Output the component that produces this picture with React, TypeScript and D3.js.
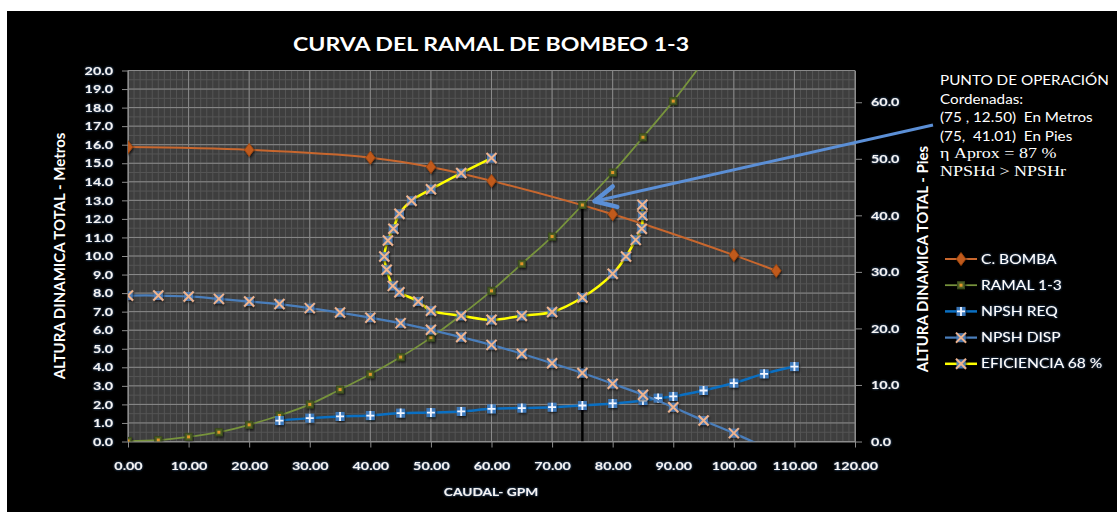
import * as d3 from 'd3';
import React, { useEffect, useRef } from 'react';

// C. BOMBA (pump curve)
const bombaQ = [0, 20, 40, 50, 60, 80, 100, 107];
const bombaH = [15.87, 15.72, 15.3, 14.8, 14.05, 12.25, 10.05, 9.2];

// RAMAL 1-3 (system curve)
const ramalQ = [0, 5, 10, 15, 20, 25, 30, 35, 40, 45, 50, 55, 60, 65, 70, 75, 80, 85, 90, 95];
const ramalH = [0.03, 0.08, 0.25, 0.5, 0.9, 1.4, 2.0, 2.8, 3.62, 4.55, 5.6, 6.82, 8.12, 9.58, 11.05, 12.75, 14.5, 16.4, 18.35, 20.5];

// NPSH REQ
const reqQ = [25, 30, 35, 40, 45, 50, 55, 60, 65, 70, 75, 80, 85, 87.5, 90, 95, 100, 105, 110];
const reqH = [1.13, 1.26, 1.35, 1.4, 1.53, 1.56, 1.62, 1.76, 1.8, 1.85, 1.94, 2.05, 2.21, 2.34, 2.43, 2.75, 3.15, 3.65, 4.04];

// NPSH DISP
const dispQ = [0, 5, 10, 15, 20, 25, 30, 35, 40, 45, 50, 55, 60, 65, 70, 75, 80, 85, 90, 95, 100, 105];
const dispH = [7.87, 7.87, 7.82, 7.69, 7.55, 7.41, 7.19, 6.95, 6.68, 6.38, 6.02, 5.63, 5.21, 4.73, 4.22, 3.69, 3.11, 2.52, 1.85, 1.13, 0.45, -0.3];

// EFICIENCIA 68 % (iso-efficiency loop)
const efQ = [60, 55, 50, 46.8, 44.8, 43.8, 42.9, 42.3, 42.7, 43.7, 44.8, 47.9, 50, 55, 60, 65, 70, 75, 80, 82.2, 83.8, 84.8, 84.9, 84.9];
const efH = [15.28, 14.47, 13.6, 12.98, 12.28, 11.47, 10.84, 9.97, 9.26, 8.39, 8.05, 7.55, 7.05, 6.78, 6.56, 6.78, 6.98, 7.76, 9.04, 9.97, 10.87, 11.47, 12.19, 12.76];

// operating point
const opQ = 75;
const opH = 12.75;
const arrowTip = [77, 12.95];

const xTicks = d3.range(0, 121, 10);
const yTicks = d3.range(0, 20.01, 1);
const y2Ticks = d3.range(0, 61, 10);
const M_TO_FT = 3.2808;

const title = 'CURVA DEL RAMAL DE BOMBEO 1-3';
const xTitle = 'CAUDAL- GPM';
const yTitle = 'ALTURA DINAMICA TOTAL - Metros';
const y2Title = 'ALTURA DINAMICA TOTAL - Pies';
const noteLines = [
  'PUNTO DE OPERACIÓN',
  'Cordenadas:',
  '(75 , 12.50)  En Metros',
  '(75,  41.01)  En Pies',
];
const noteSerif = ['η Aprox = 87 %', 'NPSHd > NPSHr'];

const W = 1117;
const H = 512;
const SX = 1.25; // the lettering in the picture is stretched sideways
const FONT = 'Lato, "Open Sans", sans-serif';

type Kind = 'diamond' | 'square' | 'plus' | 'cross';

export default function App() {
  const ref = useRef<SVGSVGElement>(null);

  useEffect(() => {
    const svg = d3.select(ref.current);
    svg.selectAll('*').remove();

    const left = 128;
    const right = 855;
    const top = 70.5;
    const bottom = 441.5;

    const x = d3.scaleLinear().domain([0, 120]).range([left, right]);
    const y = d3.scaleLinear().domain([0, 20]).range([bottom, top]);
    const y2 = d3.scaleLinear().domain([0, 20 * M_TO_FT]).range([bottom, top]);

    const defs = svg.append('defs');
    const glow = defs
      .append('filter')
      .attr('id', 'glow')
      .attr('x', '-30%')
      .attr('y', '-50%')
      .attr('width', '160%')
      .attr('height', '200%');
    glow
      .append('feDropShadow')
      .attr('dx', 0)
      .attr('dy', 0)
      .attr('stdDeviation', 1)
      .attr('flood-color', '#4f81bd')
      .attr('flood-opacity', 0.9);
    const shadow = defs.append('filter').attr('id', 'mshadow').attr('x', '-50%').attr('y', '-50%').attr('width', '200%').attr('height', '200%');
    shadow
      .append('feDropShadow')
      .attr('dx', 1)
      .attr('dy', 1.5)
      .attr('stdDeviation', 1)
      .attr('flood-color', '#000')
      .attr('flood-opacity', 0.7);
    defs
      .append('clipPath')
      .attr('id', 'plotclip')
      .append('rect')
      .attr('x', left)
      .attr('y', top)
      .attr('width', right - left)
      .attr('height', bottom - top);
    defs
      .append('marker')
      .attr('id', 'arrowhead')
      .attr('markerUnits', 'userSpaceOnUse')
      .attr('markerWidth', 30)
      .attr('markerHeight', 30)
      .attr('viewBox', '-2 -10 20 20')
      .attr('refX', 0)
      .attr('refY', 0)
      .attr('orient', 'auto')
      .append('path')
      .attr('d', 'M14,-7 L0,0 L14,7')
      .attr('fill', 'none')
      .attr('stroke', '#5b8fd6')
      .attr('stroke-width', 3)
      .attr('stroke-linecap', 'round')
      .attr('stroke-linejoin', 'round');

    // card
    svg.append('rect').attr('width', W).attr('height', H).attr('fill', '#fff');
    svg.append('rect').attr('x', 7).attr('y', 11).attr('width', W - 7).attr('height', H - 11).attr('fill', '#000');

    // plot area + grid
    svg
      .append('rect')
      .attr('x', left)
      .attr('y', top)
      .attr('width', right - left)
      .attr('height', bottom - top)
      .attr('fill', '#3e3e3e');

    const grid = svg.append('g');
    grid
      .selectAll('line.vmin')
      .data(d3.range(0, 121, 1))
      .join('line')
      .attr('x1', (d) => x(d))
      .attr('x2', (d) => x(d))
      .attr('y1', top)
      .attr('y2', bottom)
      .attr('stroke', '#555')
      .attr('stroke-width', 1);
    grid
      .selectAll('line.hmin')
      .data(d3.range(0, 20.01, 0.5))
      .join('line')
      .attr('x1', left)
      .attr('x2', right)
      .attr('y1', (d) => y(d))
      .attr('y2', (d) => y(d))
      .attr('stroke', '#555')
      .attr('stroke-width', 1);
    grid
      .selectAll('line.vmaj')
      .data(xTicks)
      .join('line')
      .attr('x1', (d) => x(d))
      .attr('x2', (d) => x(d))
      .attr('y1', top)
      .attr('y2', bottom)
      .attr('stroke', '#8a8a8a')
      .attr('stroke-width', 1);
    grid
      .selectAll('line.hmaj')
      .data(yTicks)
      .join('line')
      .attr('x1', left)
      .attr('x2', right)
      .attr('y1', (d) => y(d))
      .attr('y2', (d) => y(d))
      .attr('stroke', '#8a8a8a')
      .attr('stroke-width', 1);

    // axes
    const styleAxis = (g: any, anchorX: number | null) => {
      g.selectAll('path.domain').attr('stroke', '#8c8c8c');
      g.selectAll('.tick line').attr('stroke', '#8c8c8c');
      const t = g
        .selectAll('.tick text')
        .attr('fill', '#f4f4f4')
        .attr('font-family', FONT)
        .attr('font-weight', 700)
        .attr('font-size', 11.5)
        .attr('filter', 'url(#glow)')
        .attr('transform', `scale(${SX},1)`);
      if (anchorX !== null) t.attr('x', anchorX / SX);
    };

    const xAxis = d3
      .axisBottom(x)
      .tickValues(xTicks)
      .tickFormat(d3.format('.2f'))
      .tickSize(6)
      .tickSizeOuter(0)
      .tickPadding(14);
    svg.append('g').attr('transform', `translate(0,${bottom})`).call(xAxis).call((g) => styleAxis(g, null));

    const yAxis = d3.axisLeft(y).tickValues(yTicks).tickFormat(d3.format('.1f')).tickSize(6).tickSizeOuter(0).tickPadding(9);
    svg.append('g').attr('transform', `translate(${left},0)`).call(yAxis).call((g) => styleAxis(g, -15));

    const y2Axis = d3.axisRight(y2).tickValues(y2Ticks).tickFormat(d3.format('.1f')).tickSize(7).tickSizeOuter(0).tickPadding(9);
    svg.append('g').attr('transform', `translate(${right},0)`).call(y2Axis).call((g) => styleAxis(g, 16));

    // titles
    svg
      .append('text')
      .attr('transform', `translate(491,51) scale(${SX},1)`)
      .attr('text-anchor', 'middle')
      .attr('font-family', FONT)
      .attr('font-weight', 700)
      .attr('font-size', 18.5)
      .attr('fill', '#fff')
      .text(title);
    svg
      .append('text')
      .attr('transform', `translate(491,496) scale(${SX},1)`)
      .attr('text-anchor', 'middle')
      .attr('font-family', FONT)
      .attr('font-weight', 700)
      .attr('font-size', 11)
      .attr('fill', '#f4f4f4')
      .attr('filter', 'url(#glow)')
      .text(xTitle);
    svg
      .append('text')
      .attr('transform', `translate(65,256) rotate(-90)`)
      .attr('text-anchor', 'middle')
      .attr('font-family', FONT)
      .attr('font-weight', 700)
      .attr('font-size', 15)
      .attr('fill', '#fff')
      .text(yTitle);
    svg
      .append('text')
      .attr('transform', `translate(928,259) rotate(-90)`)
      .attr('text-anchor', 'middle')
      .attr('font-family', FONT)
      .attr('font-weight', 700)
      .attr('font-size', 15)
      .attr('fill', '#fff')
      .text(y2Title);

    // series
    const series = [
      { name: 'C. BOMBA', q: bombaQ, h: bombaH, color: '#c8672e', width: 2, kind: 'diamond' as Kind },
      { name: 'RAMAL 1-3', q: ramalQ, h: ramalH, color: '#77933c', width: 1.75, kind: 'square' as Kind },
      { name: 'NPSH REQ', q: reqQ, h: reqH, color: '#0a6fc2', width: 2.5, kind: 'plus' as Kind },
      { name: 'NPSH DISP', q: dispQ, h: dispH, color: '#4a7ebb', width: 2.25, kind: 'cross' as Kind },
      { name: 'EFICIENCIA 68 %', q: efQ, h: efH, color: '#ffff00', width: 2.5, kind: 'cross' as Kind },
    ];

    const drawMarker = (g: any, kind: Kind, cx: number, cy: number) => {
      const m = g.append('g').attr('transform', `translate(${cx},${cy})`).attr('filter', 'url(#mshadow)');
      if (kind === 'diamond') {
        m.append('path')
          .attr('d', d3.symbol(d3.symbolDiamond, 60)())
          .attr('transform', 'scale(1.15,0.9)')
          .attr('fill', '#c05a1c')
          .attr('stroke', '#9a4510')
          .attr('stroke-width', 0.8);
      } else if (kind === 'square') {
        m.append('rect').attr('x', -3.5).attr('y', -3.5).attr('width', 7).attr('height', 7).attr('fill', '#4d6126').attr('stroke', '#3a4a1c');
        m.append('rect').attr('x', -1.5).attr('y', -1.5).attr('width', 3).attr('height', 3).attr('fill', '#e3962a');
      } else if (kind === 'plus') {
        m.append('rect').attr('x', -4.5).attr('y', -4.5).attr('width', 9).attr('height', 9).attr('fill', '#3f7fc6').attr('opacity', 0.9);
        m.append('path').attr('d', 'M-4,0H4M0,-4.5V4.5').attr('stroke', '#f2f6ff').attr('stroke-width', 1.8);
      } else {
        m.append('rect').attr('x', -4.5).attr('y', -4.5).attr('width', 9).attr('height', 9).attr('fill', '#4f81bd').attr('opacity', 0.85);
        m.append('path').attr('d', 'M-5,-5L5,5M5,-5L-5,5').attr('stroke', '#f0b48e').attr('stroke-width', 2);
      }
    };

    const line = d3
      .line<[number, number]>()
      .x((d) => x(d[0]))
      .y((d) => y(d[1]))
      .curve(d3.curveCatmullRom.alpha(0.5));

    const plot = svg.append('g').attr('clip-path', 'url(#plotclip)');

    // vertical line from the operating point down to the axis
    plot
      .append('line')
      .attr('x1', x(opQ))
      .attr('x2', x(opQ))
      .attr('y1', y(opH))
      .attr('y2', y(0))
      .attr('stroke', '#000')
      .attr('stroke-width', 2.5);

    series.forEach((s) => {
      const pts = s.q.map((q, i) => [q, s.h[i]] as [number, number]);
      plot
        .append('path')
        .attr('d', line(pts))
        .attr('fill', 'none')
        .attr('stroke', s.color)
        .attr('stroke-width', s.width)
        .attr('stroke-linejoin', 'round');
      const mg = plot.append('g');
      pts
        .filter((p) => p[1] >= 0 && p[1] <= 20)
        .forEach((p) => drawMarker(mg, s.kind, x(p[0]), y(p[1])));
    });

    // legend
    const lg = svg.append('g');
    series.forEach((s, i) => {
      const ly = 259 + i * 26.2;
      lg.append('line').attr('x1', 945).attr('x2', 977).attr('y1', ly).attr('y2', ly).attr('stroke', s.color).attr('stroke-width', s.width);
      drawMarker(lg, s.kind, 961, ly);
      lg.append('text')
        .attr('transform', `translate(981,${ly + 4.5}) scale(${SX},1)`)
        .attr('font-family', FONT)
        .attr('font-size', 12.5)
        .attr('fill', '#fff')
        .attr('filter', 'url(#glow)')
        .text(s.name);
    });

    // annotation
    const note = svg.append('g');
    noteLines.forEach((t, i) => {
      note
        .append('text')
        .attr('transform', `translate(940,${85 + i * 18.5}) scale(1.22,1)`)
        .attr('font-family', FONT)
        .attr('font-size', 12.5)
        .attr('fill', '#fff')
        .style('white-space', 'pre')
        .text(t);
    });
    noteSerif.forEach((t, i) => {
      note
        .append('text')
        .attr('transform', `translate(940,${158 + i * 17.5}) scale(1.2,1)`)
        .attr('font-family', '"Liberation Serif", "Times New Roman", serif')
        .attr('font-size', 15)
        .attr('fill', '#fff')
        .text(t);
    });

    // arrow to the operating point
    svg
      .append('line')
      .attr('x1', x(arrowTip[0]))
      .attr('y1', y(arrowTip[1]))
      .attr('x2', 933)
      .attr('y2', 125)
      .attr('stroke', '#5b8fd6')
      .attr('stroke-width', 3)
      .attr('marker-start', 'url(#arrowhead)');
  }, []);

  return <svg ref={ref} width={W} height={H} style={{ position: 'absolute', left: 0, top: 0 }} />;
}
